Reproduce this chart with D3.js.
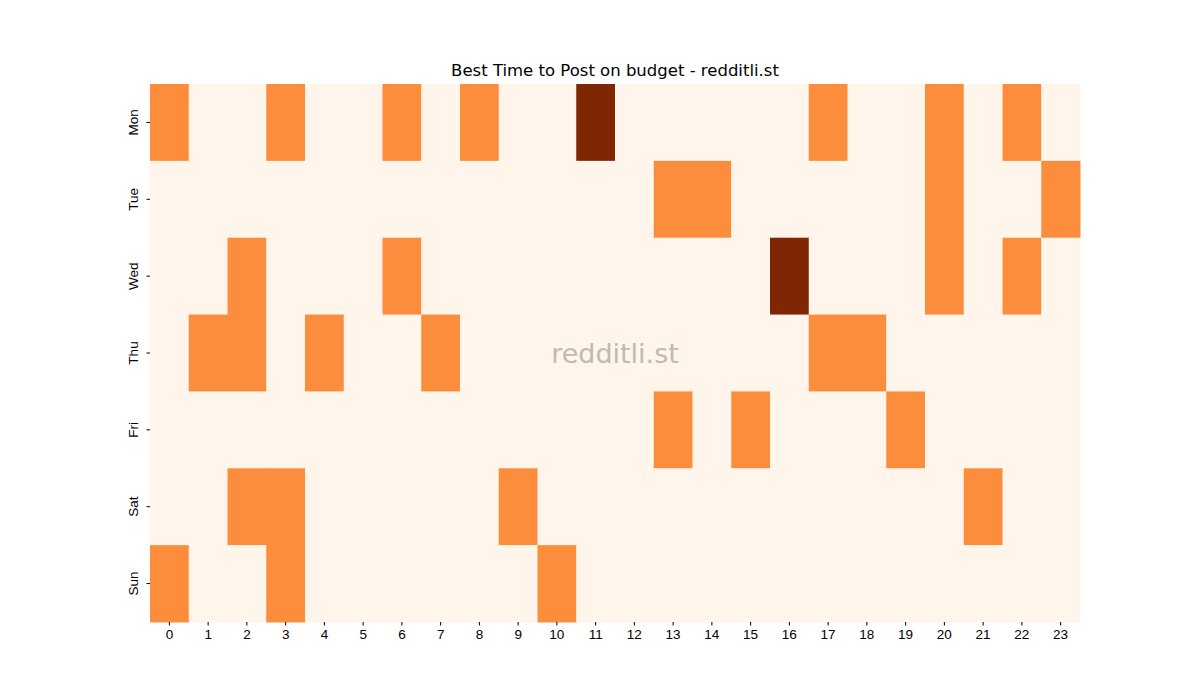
<!DOCTYPE html>
<html>
<head>
<meta charset="utf-8">
<script src="https://cdn.jsdelivr.net/npm/d3@7"></script>
<style>
  body { margin: 0; background: #fff; }
  svg { font-family: "DejaVu Sans", sans-serif; }
  .axis path { display: none; }
  .axis text { font-size: 13.5px; fill: #000; }
  .axis line { stroke: #000; }
</style>
</head>
<body>
<div id="chart"></div>
<script>
const days = ['Mon', 'Tue', 'Wed', 'Thu', 'Fri', 'Sat', 'Sun'];
const hours = d3.range(24);

// post score per hour (0 = none, 1 = good, 2 = best)
const mon = [1,0,0,1,0,0,1,0,1,0,0,2,0,0,0,0,0,1,0,0,1,0,1,0];
const tue = [0,0,0,0,0,0,0,0,0,0,0,0,0,1,1,0,0,0,0,0,1,0,0,1];
const wed = [0,0,1,0,0,0,1,0,0,0,0,0,0,0,0,0,2,0,0,0,1,0,1,0];
const thu = [0,1,1,0,1,0,0,1,0,0,0,0,0,0,0,0,0,1,1,0,0,0,0,0];
const fri = [0,0,0,0,0,0,0,0,0,0,0,0,0,1,0,1,0,0,0,1,0,0,0,0];
const sat = [0,0,1,1,0,0,0,0,0,1,0,0,0,0,0,0,0,0,0,0,0,1,0,0];
const sun = [1,0,0,1,0,0,0,0,0,0,1,0,0,0,0,0,0,0,0,0,0,0,0,0];
const values = [mon, tue, wed, thu, fri, sat, sun];

const width = 1200, height = 700;
const margin = { top: 84, right: 120, bottom: 78, left: 150 };
const w = width - margin.left - margin.right;
const h = height - margin.top - margin.bottom;

const svg = d3.select('#chart')
    .append('svg')
    .attr('width', width)
    .attr('height', height);

const g = svg.append('g')
    .attr('transform', `translate(${margin.left},${margin.top})`);

const xScale = d3.scaleBand().domain(hours).range([0, w]);
const yScale = d3.scaleBand().domain(days).range([0, h]);
const colorScale = d3.scaleSequential(d3.interpolateOranges).domain([0, 2]);

days.forEach((day, i) => {
    hours.forEach((hr, j) => {
        g.append('rect')
            .attr('x', xScale(hr))
            .attr('y', yScale(day))
            .attr('width', xScale.bandwidth() + 0.5)
            .attr('height', yScale.bandwidth() + 0.5)
            .attr('fill', colorScale(values[i][j]));
    });
});

g.append('g')
    .attr('class', 'x axis')
    .attr('transform', `translate(0,${h})`)
    .call(d3.axisBottom(xScale).tickSize(3.5).tickPadding(4));

g.append('g')
    .attr('class', 'y axis')
    .call(d3.axisLeft(yScale).tickSize(3.5).tickPadding(4))
    .selectAll('text')
    .attr('text-anchor', 'middle')
    .attr('x', -17)
    .attr('dy', '0')
    .attr('transform', 'rotate(-90)')
    .attr('transform', function() { return `rotate(-90, -17, 0)`; })
    .attr('dominant-baseline', 'central');

g.append('text')
    .attr('x', w / 2)
    .attr('y', h / 2)
    .attr('text-anchor', 'middle')
    .attr('dominant-baseline', 'central')
    .attr('font-size', 27)
    .attr('fill', 'gray')
    .attr('opacity', 0.5)
    .text('redditli.st');

svg.append('text')
    .attr('x', margin.left + w / 2)
    .attr('y', 76)
    .attr('text-anchor', 'middle')
    .attr('font-size', 16.5)
    .text('Best Time to Post on budget - redditli.st');
</script>
</body>
</html>
